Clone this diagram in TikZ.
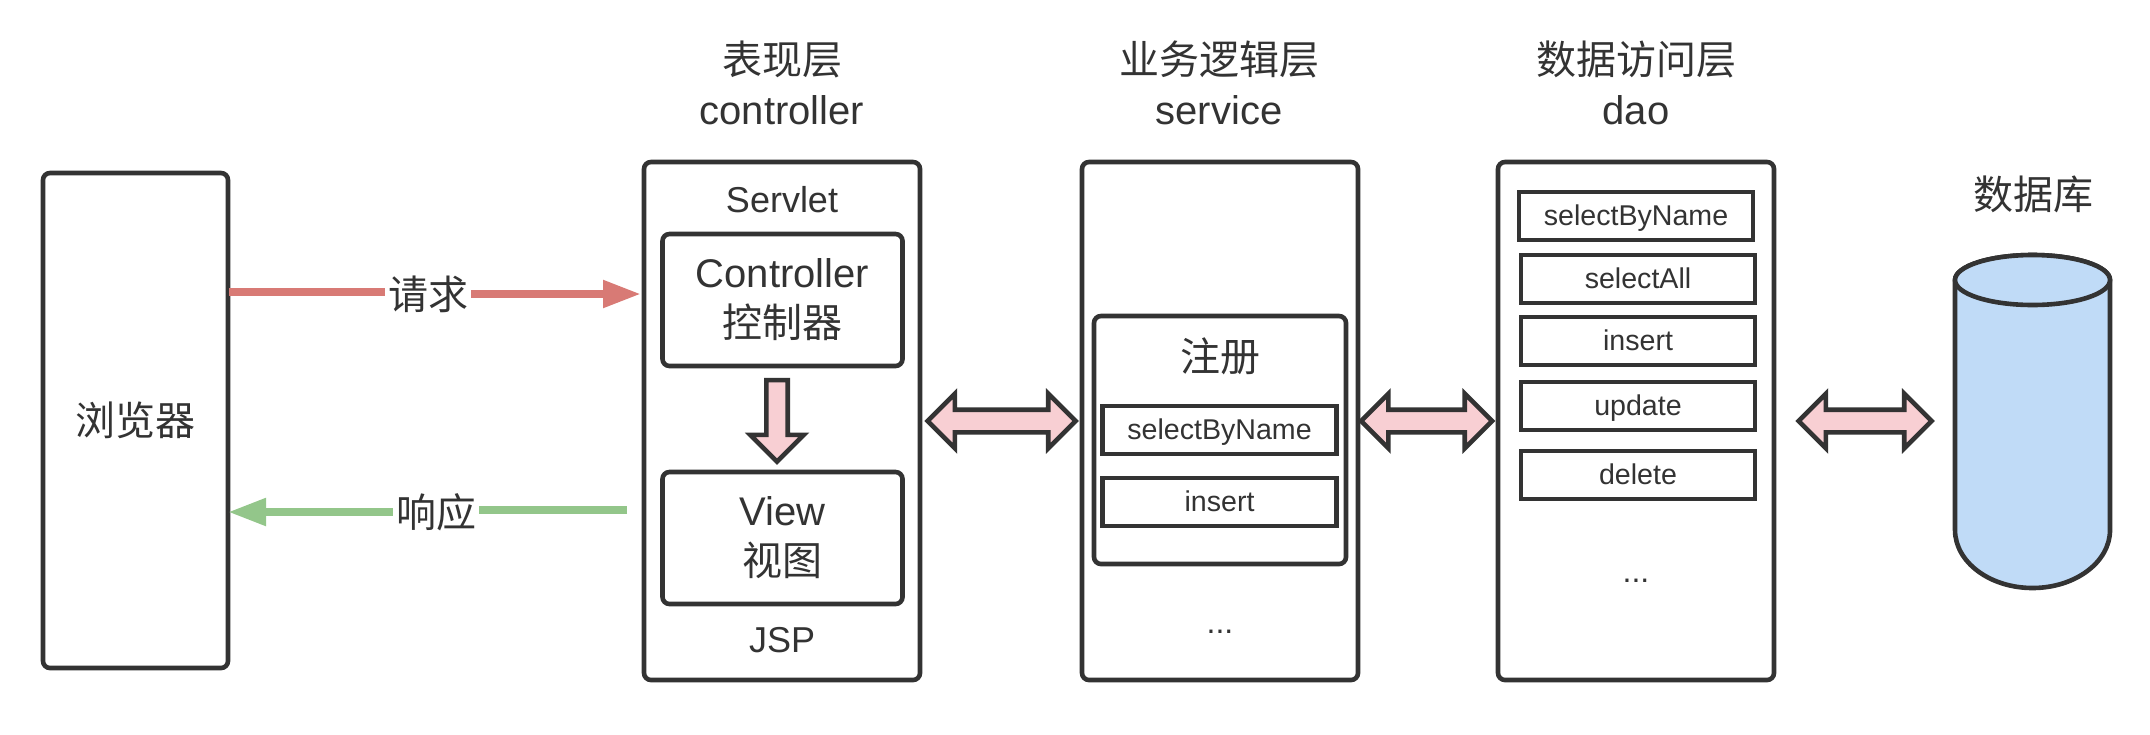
\documentclass[tikz,border=0pt]{standalone}
\usepackage{fontspec}
\setmainfont{Liberation Sans}
\newfontfamily\cjk{Noto Sans CJK SC}
\usetikzlibrary{positioning, arrows.meta, shapes.arrows}
\definecolor{inkc}{HTML}{333333}
\definecolor{pinkc}{HTML}{F8CFD3}
\definecolor{bluec}{HTML}{C0DBF7}
\definecolor{reqc}{HTML}{D87A75}
\definecolor{respc}{HTML}{93C68A}
\tikzset{
    txt/.style={text=inkc, inner sep=1.5pt, font=\fontsize{20pt}{25pt}\selectfont, align=center},
    midtxt/.style={txt, font=\fontsize{18pt}{22pt}\selectfont},
    smalltxt/.style={txt, font=\fontsize{14.3pt}{17pt}\selectfont},
    dotstxt/.style={txt, font=\fontsize{16pt}{19pt}\selectfont},
    panel/.style={draw=inkc, line width=2.3pt, rounded corners=3.5pt, fill=white, minimum width=#1, txt},
    itembox/.style={draw=inkc, line width=2.3pt, fill=white, minimum width=117pt, minimum height=24pt, smalltxt,
        text height=12.5pt, text depth=3pt},
    bothways/.style={double arrow, draw=inkc, line width=2.3pt, fill=pinkc, minimum height=#1, minimum width=25pt,
        inner sep=4.5pt, double arrow head extend=8pt, double arrow tip angle=90, double arrow head indent=0pt},
    downway/.style={single arrow, draw=inkc, line width=2.3pt, fill=pinkc, minimum height=40.7pt, minimum width=24.3pt,
        inner sep=4.2pt, single arrow head extend=8pt, single arrow tip angle=90, shape border rotate=270},
    reqline/.style={draw=reqc, line width=4pt},
    respline/.style={draw=respc, line width=4pt},
    tipend/.style={-{Triangle[length=19pt,width=13pt]}},
}
\begin{document}
\begin{tikzpicture}[x=0.5pt,y=-0.5pt]

            \useasboundingbox (0,0) rectangle (2150,734);

            % titles
            \node[txt] (ctrltitle) at (782,59) {\cjk 表现层};
            \node[txt] (ctrlname) at (782,110) {controller};
            \node[txt] (svctitle) at (1219,59) {\cjk 业务逻辑层};
            \node[txt] (svcname) at (1219,110) {service};
            \node[txt] (daotitle) at (1636,59) {\cjk 数据访问层};
            \node[txt] (daoname) at (1636,110) {dao};
            \node[txt] (dbtitle) at (2033,194) {\cjk 数据库};

            % browser
            \node[panel=92.5pt, minimum height=247.5pt] (browser) at (135.5,420.5) {\cjk 浏览器};

            % controller column
            \node[panel=138pt, minimum height=259pt] (ctrlcol) at (782,421) {};
            \node[midtxt] (servlet) at (782,200) {Servlet};
            \node[panel=120pt, minimum height=66pt] (ctrlbox) at (782.5,300) {Controller\\{\cjk 控制器}};
            \node[downway] (ctrldown) at (777,415.5) {};
            \node[panel=120pt, minimum height=66pt] (viewbox) at (782.5,538) {View\\{\cjk 视图}};
            \node[midtxt] (jsp) at (782,640) {JSP};

            % service column
            \node[panel=138pt, minimum height=259pt] (svccol) at (1220,421) {};
            \node[panel=126pt, minimum height=124pt] (regbox) at (1220,440) {};
            \node[txt] (regtitle) at (1220,356) {\cjk 注册};
            \node[itembox] (svcselect) at (1219.5,430) {selectByName};
            \node[itembox] (svcinsert) at (1219.5,502) {insert};
            \node[dotstxt] (svcmore) at (1220,632) {...};

            % dao column
            \node[panel=138pt, minimum height=259pt] (daocol) at (1636,421) {};
            \node[itembox] (daoselect) at (1636,216) {selectByName};
            \node[itembox] (daoall) at (1638,279) {selectAll};
            \node[itembox] (daoinsert) at (1638,341) {insert};
            \node[itembox] (daoupdate) at (1638,406) {update};
            \node[itembox] (daodelete) at (1638,475) {delete};
            \node[dotstxt] (daomore) at (1636,581) {...};

            % database
            \draw[draw=inkc, line width=2.3pt, fill=bluec] (1955,280) -- (1955,530)
                arc[start angle=180, end angle=0, x radius=77.5, y radius=58] -- (2110,280)
                arc[start angle=0, end angle=-180, x radius=77.5, y radius=25] -- cycle;
            \draw[draw=inkc, line width=2.3pt, fill=bluec] (2032.5,280) ellipse[x radius=77.5, y radius=25];

            % block arrows
            \node[bothways=74pt] (arrowa) at (1001.5,421) {};
            \node[bothways=65.5pt] (arrowb) at (1426.5,421) {};
            \node[bothways=66.5pt] (arrowc) at (1865,421) {};

            % request and response
            \coordinate (reqfrom) at (229,291.5);
            \coordinate (reqto) at (641,294);
            \coordinate (respfrom) at (627,510);
            \coordinate (respto) at (228,512);
            \node[txt] (reqlabel) at (428,294) {\cjk 请求};
            \node[txt] (resplabel) at (436,512) {\cjk 响应};
            \draw[reqline] (reqfrom) -- (reqlabel.west |- reqfrom);
            \draw[reqline, tipend] (reqlabel.east) -- (reqto);
            \draw[respline] (respfrom) -- (resplabel.east |- respfrom);
            \draw[respline, tipend] (resplabel.west) -- (respto);
        \end{tikzpicture}
\end{document}
